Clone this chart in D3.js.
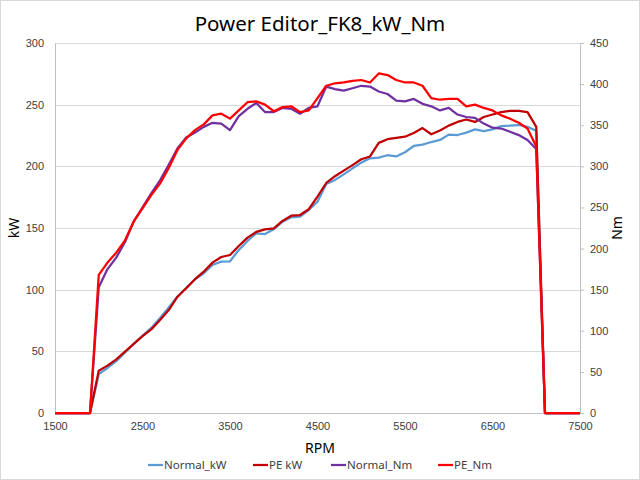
<!DOCTYPE html>
<html>
<head>
<meta charset="utf-8">
<script src="https://cdn.jsdelivr.net/npm/d3@7"></script>
<style>
body { margin: 0; background: #fff; }
svg { display: block; font-family: "Noto Sans", sans-serif; }
.grid line { stroke: #d9d9d9; stroke-width: 1; }
.tick text { fill: #404040; font-size: 11px; }
</style>
</head>
<body>
<script>
var rpm = [1500, 1600, 1700, 1800, 1900, 2000, 2100, 2200, 2300, 2400,
	2500, 2600, 2700, 2800, 2900, 3000, 3100, 3200, 3300, 3400,
	3500, 3600, 3700, 3800, 3900, 4000, 4100, 4200, 4300, 4400,
	4500, 4600, 4700, 4800, 4900, 5000, 5100, 5200, 5300, 5400,
	5500, 5600, 5700, 5800, 5900, 6000, 6100, 6200, 6300, 6400,
	6500, 6600, 6700, 6800, 6900, 7000, 7100, 7200, 7300, 7400, 7500];

var normalKw = [0, 0, 0, 0, 0, 31.5, 36.5, 42, 49, 56,
	62.5, 69, 77, 85.5, 94.5, 101.5, 108.4, 113.3, 120, 122.7,
	123, 132.2, 139.5, 145.7, 145.1, 148.9, 155.1, 158.7, 159.2, 164.6,
	171.3, 185.7, 189, 193.5, 198.4, 203, 206.5, 207, 209, 208,
	211.4, 216.5, 217.6, 219.7, 221.4, 225.7, 225.4, 227.3, 230, 228.6,
	230, 232.7, 233, 233.5, 232, 228.9, 0, 0, 0, 0, 0];

var peKw = [0, 0, 0, 0, 0, 34.3, 38.4, 43.5, 49.7, 56,
	62.4, 67.8, 75.4, 83.5, 94.3, 101.1, 108.5, 114.6, 121.9, 126.5,
	128.1, 135.4, 142.2, 146.8, 148.9, 149.7, 155.7, 160, 160.5, 165.2,
	175.4, 186.5, 192, 196.5, 201, 205.7, 208, 219, 222, 223,
	224, 227, 231, 226, 229, 233, 236, 238, 236, 240,
	242, 244, 245, 245, 244, 232, 0, 0, 0, 0, 0];

var normalNm = [0, 0, 0, 0, 0, 153, 175, 189, 208, 233,
	250, 267, 283, 302, 322, 335, 341, 348, 353, 352,
	344, 361, 370, 377, 366, 366, 371, 370, 364, 371,
	373, 397, 394, 392, 395, 398, 397, 391, 388, 380,
	379, 382, 376, 373, 368, 371, 363, 360, 359, 352,
	347, 346, 342, 338, 332, 321, 0, 0, 0, 0, 0];

var peNm = [0, 0, 0, 0, 0, 168, 183, 195, 210, 233,
	249, 265, 279, 298, 320, 334, 344, 351, 362, 364,
	358, 368, 378, 379, 375, 367, 372, 373, 366, 368,
	383, 398, 401, 402, 404, 405, 402, 413, 411, 405,
	402, 402, 398, 383, 381, 382, 382, 373, 375, 371,
	368, 362, 358, 353, 346, 324, 0, 0, 0, 0, 0];

var xTicks = [1500, 2500, 3500, 4500, 5500, 6500, 7500];
var kwTicks = [0, 50, 100, 150, 200, 250, 300];
var nmTicks = [0, 50, 100, 150, 200, 250, 300, 350, 400, 450];

var seriesNames = ['Normal_kW', 'PE kW', 'Normal_Nm', 'PE_Nm'];
var seriesColors = ['#5b9bd5', '#c00000', '#7030a0', '#ff0000'];

var width = 640, height = 480;
var plotLeft = 55, plotRight = 580, plotTop = 43, plotBottom = 413;

var svg = d3.select('body')
	.append('svg')
	.attr('width', width)
	.attr('height', height);

svg.append('rect')
	.attr('x', 0.5).attr('y', 0.5)
	.attr('width', width - 1).attr('height', height - 1)
	.attr('fill', '#fff')
	.attr('stroke', '#d9d9d9');

var x = d3.scaleLinear().domain([1500, 7500]).range([plotLeft, plotRight]);
var yKw = d3.scaleLinear().domain([0, 300]).range([plotBottom, plotTop]);
var yNm = d3.scaleLinear().domain([0, 450]).range([plotBottom, plotTop]);

// horizontal grid
svg.append('g')
	.attr('class', 'grid')
	.selectAll('line')
	.data(kwTicks.slice(1))
	.enter()
	.append('line')
	.attr('x1', plotLeft)
	.attr('x2', plotRight)
	.attr('y1', function(d) { return Math.round(yKw(d)) + 0.5; })
	.attr('y2', function(d) { return Math.round(yKw(d)) + 0.5; });

// left axis
var axL = svg.append('g')
	.attr('transform', 'translate(' + plotLeft + ',0)')
	.call(d3.axisLeft(yKw).tickValues(kwTicks).tickSize(0).tickPadding(11));
axL.select('.domain').attr('stroke', '#bfbfbf');

// right axis
var axR = svg.append('g')
	.attr('transform', 'translate(' + plotRight + ',0)')
	.call(d3.axisRight(yNm).tickValues(nmTicks).tickSize(4).tickSizeOuter(0).tickPadding(6));
axR.select('.domain').attr('stroke', '#bfbfbf');
axR.selectAll('.tick line').attr('stroke', '#bfbfbf');

// bottom axis
var axB = svg.append('g')
	.attr('transform', 'translate(0,' + plotBottom + ')')
	.call(d3.axisBottom(x).tickValues(xTicks).tickFormat(d3.format('d')).tickSize(0).tickPadding(9));
axB.select('.domain').attr('stroke', '#bfbfbf');

var lineKw = d3.line()
	.x(function(d, i) { return x(rpm[i]); })
	.y(function(d) { return yKw(d); });

var lineNm = d3.line()
	.x(function(d, i) { return x(rpm[i]); })
	.y(function(d) { return yNm(d); });

var series = [
	{ values: normalKw, line: lineKw },
	{ values: peKw, line: lineKw },
	{ values: normalNm, line: lineNm },
	{ values: peNm, line: lineNm }
];

svg.selectAll('path.series')
	.data(series)
	.enter()
	.append('path')
	.attr('class', 'series')
	.attr('fill', 'none')
	.attr('stroke', function(d, i) { return seriesColors[i]; })
	.attr('stroke-width', 2.25)
	.attr('stroke-linejoin', 'round')
	.attr('d', function(d) { return d.line(d.values); });

// titles
svg.append('text')
	.attr('x', 320)
	.attr('y', 31)
	.attr('text-anchor', 'middle')
	.attr('font-size', 20.5)
	.attr('fill', '#000')
	.text('Power Editor_FK8_kW_Nm');

svg.append('text')
	.attr('x', 320)
	.attr('y', 453)
	.attr('text-anchor', 'middle')
	.attr('font-size', 14)
	.attr('fill', '#000')
	.text('RPM');

svg.append('text')
	.attr('transform', 'translate(19,228) rotate(-90)')
	.attr('text-anchor', 'middle')
	.attr('font-size', 14)
	.attr('fill', '#000')
	.text('kW');

svg.append('text')
	.attr('transform', 'translate(622,228) rotate(-90)')
	.attr('text-anchor', 'middle')
	.attr('font-size', 14)
	.attr('fill', '#000')
	.text('Nm');

// legend
var legendX = [148, 253, 331, 438];
var legend = svg.selectAll('g.legend')
	.data(seriesNames)
	.enter()
	.append('g')
	.attr('class', 'legend')
	.attr('transform', function(d, i) { return 'translate(' + legendX[i] + ',465)'; });

legend.append('line')
	.attr('x1', 0).attr('x2', 15)
	.attr('y1', 0).attr('y2', 0)
	.attr('stroke', function(d, i) { return seriesColors[i]; })
	.attr('stroke-width', 2.25);

legend.append('text')
	.attr('x', 16)
	.attr('y', 4)
	.attr('font-size', 11.5)
	.attr('fill', '#404040')
	.text(function(d) { return d; });
</script>
</body>
</html>
